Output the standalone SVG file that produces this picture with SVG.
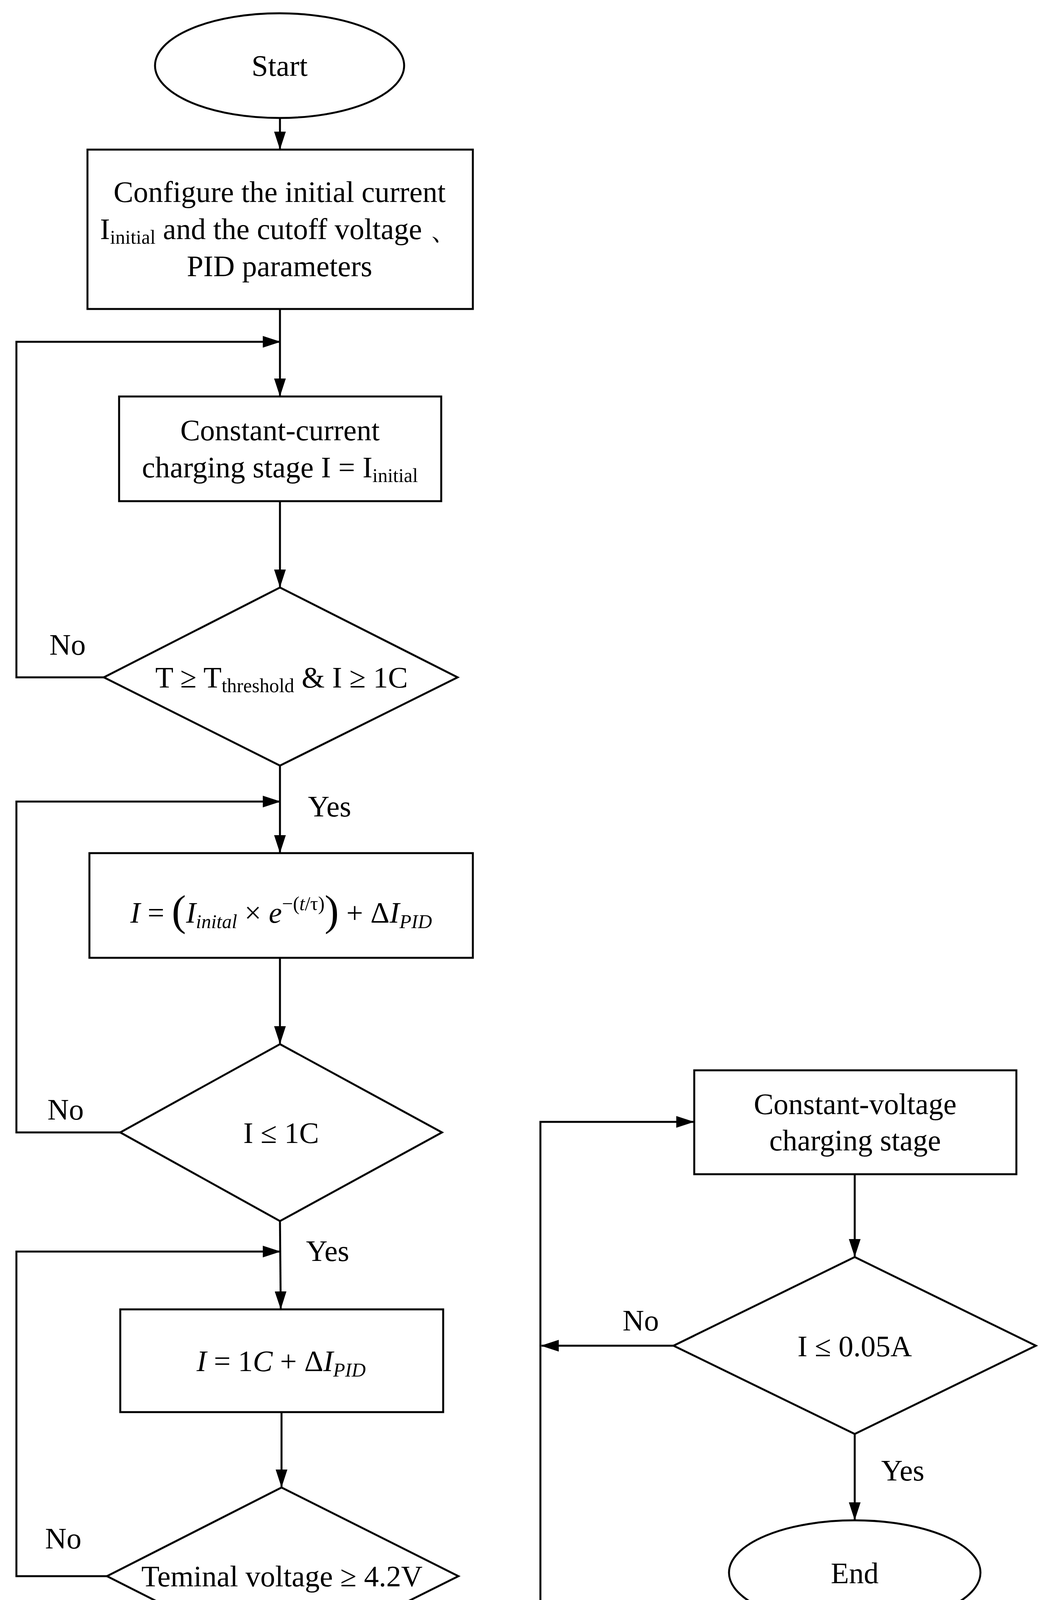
<svg xmlns="http://www.w3.org/2000/svg" width="2684" height="4382" viewBox="0 0 2684 4382">
<style>
.s{fill:#fff;stroke:#000;stroke-width:5}
.l{fill:none;stroke:#000;stroke-width:5}
text{font-family:"Liberation Serif","Times New Roman",serif;font-size:76px;fill:#000;text-anchor:middle}
.i{font-style:italic}
</style>
<defs>
<marker id="a" markerUnits="userSpaceOnUse" markerWidth="46" markerHeight="30" refX="44" refY="15" orient="auto">
<path d="M0,0 L46,15 L0,30 Z" fill="#000"/>
</marker>
</defs>
<rect width="2684" height="4382" fill="#fff"/>
<g id="connectors">
<line class="l" x1="717" y1="302" x2="717" y2="381" marker-end="url(#a)"/>
<line class="l" x1="717" y1="791" x2="717" y2="1013" marker-end="url(#a)"/>
<polyline class="l" points="266,1734 42,1734 42,875 717,875" marker-end="url(#a)"/>
<line class="l" x1="717" y1="1283" x2="717" y2="1502" marker-end="url(#a)"/>
<line class="l" x1="717" y1="1960" x2="717" y2="2182" marker-end="url(#a)"/>
<polyline class="l" points="308,2899 42,2899 42,2052 717,2052" marker-end="url(#a)"/>
<line class="l" x1="717" y1="2452" x2="717" y2="2671" marker-end="url(#a)"/>
<line class="l" x1="717" y1="3126" x2="719" y2="3350" marker-end="url(#a)"/>
<polyline class="l" points="274,4035 42,4035 42,3204 717,3204" marker-end="url(#a)"/>
<line class="l" x1="721" y1="3615" x2="721" y2="3806" marker-end="url(#a)"/>
<polyline class="l" points="721,4261 721,4351 1384,4351 1384,2872 1776,2872" marker-end="url(#a)"/>
<line class="l" x1="1725" y1="3445" x2="1387" y2="3445" marker-end="url(#a)"/>
<line class="l" x1="2189" y1="3006" x2="2189" y2="3216" marker-end="url(#a)"/>
<line class="l" x1="2189" y1="3671" x2="2189" y2="3890" marker-end="url(#a)"/>
<text x="173" y="1676">No</text>
<text x="844" y="2090">Yes</text>
<text x="168" y="2866">No</text>
<text x="839" y="3228">Yes</text>
<text x="162" y="3964">No</text>
<text x="1110" y="4334">Yes</text>
<text x="1641" y="3406">No</text>
<text x="2312" y="3790">Yes</text>
</g>
<g id="start"><ellipse class="s" cx="716" cy="168" rx="319" ry="134"/><text x="716" y="194">Start</text></g>
<g id="config"><rect class="s" x="224" y="383" width="987" height="408"/>
<text x="716" y="517">Configure the initial current</text>
<text x="716" y="612">I<tspan font-size="50" dy="12">initial</tspan><tspan dy="-12"> and the cutoff voltage 、</tspan></text>
<text x="716" y="707">PID parameters</text></g>
<g id="cc"><rect class="s" x="305" y="1015" width="825" height="268"/>
<text x="717" y="1127">Constant-current</text>
<text x="717" y="1222">charging stage I = I<tspan font-size="50" dy="12">initial</tspan></text></g>
<g id="d1"><polygon class="s" points="717,1504 1172,1734 717,1960 266,1734"/>
<text x="721" y="1760">T ≥ T<tspan font-size="50" dy="12">threshold</tspan><tspan dy="-12"> &amp; I ≥ 1C</tspan></text></g>
<g id="exp"><rect class="s" x="229" y="2184" width="982" height="268"/>
<text x="720" y="2362"><tspan class="i">I</tspan> = <tspan font-size="110" dy="6">(</tspan><tspan class="i" dy="-6">I</tspan><tspan class="i" font-size="50" dy="14">inital</tspan><tspan dy="-14"> × </tspan><tspan class="i">e</tspan><tspan font-size="50" dy="-32">−(</tspan><tspan class="i" font-size="50">t</tspan><tspan font-size="50">/τ)</tspan><tspan font-size="110" dy="38">)</tspan><tspan dy="-6"> + Δ</tspan><tspan class="i">I</tspan><tspan class="i" font-size="50" dy="14">PID</tspan></text></g>
<g id="d2"><polygon class="s" points="717,2673 1132,2899 717,3126 308,2899"/>
<text x="720" y="2926">I  ≤ 1C</text></g>
<g id="c1"><rect class="s" x="308" y="3352" width="827" height="263"/>
<text x="720" y="3510"><tspan class="i">I</tspan> = 1<tspan class="i">C</tspan> + Δ<tspan class="i">I</tspan><tspan class="i" font-size="50" dy="14">PID</tspan></text></g>
<g id="d3"><polygon class="s" points="721,3808 1174,4035 721,4261 274,4035"/>
<text x="722" y="4061">Teminal voltage ≥ 4.2V</text></g>
<g id="cv"><rect class="s" x="1778" y="2740" width="825" height="266"/>
<text x="2190" y="2852">Constant-voltage</text>
<text x="2190" y="2945">charging stage</text></g>
<g id="d4"><polygon class="s" points="2189,3218 2653,3445 2189,3671 1725,3445"/>
<text x="2189" y="3472">I  ≤ 0.05A</text></g>
<g id="end"><ellipse class="s" cx="2189" cy="4026" rx="322" ry="134"/><text x="2189" y="4053">End</text></g>
</svg>
